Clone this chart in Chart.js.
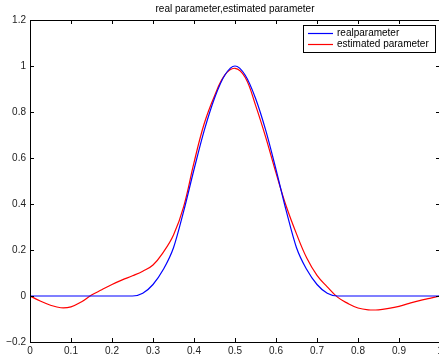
<!DOCTYPE html>
<html>
<head>
<meta charset="utf-8">
<script src="https://cdn.jsdelivr.net/npm/chart.js@4/dist/chart.umd.min.js"></script>
<style>
  html, body { margin: 0; padding: 0; overflow: hidden; background: #fff; }
  #wrap { width: 446px; height: 356px; }
</style>
</head>
<body>
<div id="wrap"><canvas id="plot" width="446" height="356"></canvas></div>
<script>
const xs = [0, 0.025, 0.05, 0.075, 0.1, 0.125, 0.15, 0.175, 0.2, 0.225,
            0.25, 0.275, 0.3, 0.325, 0.35, 0.375, 0.4, 0.425, 0.45, 0.475,
            0.5, 0.525, 0.55, 0.575, 0.6, 0.625, 0.65, 0.675, 0.7, 0.725,
            0.75, 0.775, 0.8, 0.825, 0.85, 0.875, 0.9, 0.925, 0.95, 0.975, 1];
const realParam = [0, 0, 0, 0, 0, 0, 0, 0, 0, 0,
                   0, 0.012, 0.05, 0.115, 0.21, 0.37, 0.55, 0.72, 0.86, 0.96,
                   1.0, 0.96, 0.86, 0.72, 0.55, 0.37, 0.21, 0.115, 0.05, 0.012,
                   0, 0, 0, 0, 0, 0, 0, 0, 0, 0, 0];
const estParam = [0, -0.022, -0.04, -0.051, -0.047, -0.026, 0.004, 0.027, 0.05, 0.07,
                  0.088, 0.108, 0.135, 0.19, 0.265, 0.39, 0.58, 0.75, 0.87, 0.96,
                  0.99, 0.95, 0.83, 0.69, 0.535, 0.39, 0.27, 0.165, 0.09, 0.04,
                  -0.005, -0.032, -0.052, -0.06, -0.06, -0.054, -0.045, -0.032, -0.02, -0.01, 0];
const xTicks = [0, 0.1, 0.2, 0.3, 0.4, 0.5, 0.6, 0.7, 0.8, 0.9, 1];
const xTickLabels = ["0", "0.1", "0.2", "0.3", "0.4", "0.5", "0.6", "0.7", "0.8", "0.9", "1"];
const yTicks = [-0.2, 0, 0.2, 0.4, 0.6, 0.8, 1, 1.2];
const yTickLabels = ["\u22120.2", "0", "0.2", "0.4", "0.6", "0.8", "1", "1.2"];
const seriesNames = ["realparameter", "estimated parameter"];
const seriesColors = ["#0000ff", "#ff0000"];
const titleText = "real parameter,estimated parameter";

const FONT = "'Liberation Sans', Arial, Helvetica, sans-serif";

// MATLAB style box: frame, inward ticks and legend box
const matlabBox = {
    id: "matlabBox",
    afterDraw(chart) {
        const ctx = chart.ctx;
        const { left, right, top, bottom } = chart.chartArea;
        const x = chart.scales.x, y = chart.scales.y;
        ctx.save();
        ctx.strokeStyle = "#000";
        ctx.lineWidth = 1;
        ctx.strokeRect(left + 0.5, top + 0.5, right - left, bottom - top);

        ctx.beginPath();
        xTicks.forEach(v => {
            const px = Math.round(x.getPixelForValue(v)) + 0.5;
            ctx.moveTo(px, bottom); ctx.lineTo(px, bottom - 4);
            ctx.moveTo(px, top); ctx.lineTo(px, top + 4);
        });
        yTicks.forEach(v => {
            const py = Math.round(y.getPixelForValue(v)) + 0.5;
            ctx.moveTo(left, py); ctx.lineTo(left + 4, py);
            ctx.moveTo(right, py); ctx.lineTo(right - 4, py);
        });
        ctx.stroke();

        // legend
        const bx = 303, by = top + 5, bw = 132, bh = 27;
        ctx.fillStyle = "#fff";
        ctx.fillRect(bx, by, bw, bh);
        ctx.strokeRect(bx + 0.5, by + 0.5, bw, bh);
        ctx.font = "10px " + FONT;
        ctx.textBaseline = "middle";
        ctx.textAlign = "left";
        chart.data.datasets.forEach((ds, i) => {
            const ly = by + 8.5 + i * 11;
            ctx.strokeStyle = ds.borderColor;
            ctx.lineWidth = 1.2;
            ctx.beginPath();
            ctx.moveTo(bx + 5, ly); ctx.lineTo(bx + 30, ly);
            ctx.stroke();
            ctx.fillStyle = "#000";
            ctx.fillText(ds.label, bx + 34, ly);
        });
        ctx.restore();
    }
};

new Chart(document.getElementById("plot"), {
    type: "line",
    data: {
        datasets: [realParam, estParam].map((vals, i) => ({
            label: seriesNames[i],
            data: xs.map((xv, j) => ({ x: xv, y: vals[j] })),
            borderColor: seriesColors[i],
            borderWidth: 1.2,
            pointRadius: 0,
            fill: false,
            tension: 0.4,
            cubicInterpolationMode: i === 0 ? "monotone" : "default"
        }))
    },
    options: {
        responsive: false,
        devicePixelRatio: 1,
        animation: false,
        layout: { padding: { left: 0, right: 6, top: 0, bottom: 0 } },
        plugins: {
            legend: { display: false },
            tooltip: { enabled: false },
            title: {
                display: true,
                text: titleText,
                fullSize: false,
                color: "#000",
                font: { family: FONT, size: 10, weight: "normal", lineHeight: 1.2 },
                padding: { top: 3, bottom: 5 }
            }
        },
        scales: {
            x: {
                type: "linear",
                min: 0,
                max: 1,
                grid: { display: false, drawTicks: false },
                border: { display: false },
                afterBuildTicks: s => { s.ticks = xTicks.map(v => ({ value: v })); },
                afterFit: s => { s.height = 14; },
                ticks: {
                    padding: 3,
                    maxRotation: 0,
                    autoSkip: false,
                    color: "#222",
                    font: { family: FONT, size: 10 },
                    callback: (v, i) => xTickLabels[i]
                }
            },
            y: {
                min: -0.2,
                max: 1.2,
                grid: { display: false, drawTicks: false },
                border: { display: false },
                afterBuildTicks: s => { s.ticks = yTicks.map(v => ({ value: v })); },
                afterFit: s => { s.width = 30; },
                ticks: {
                    padding: 4,
                    autoSkip: false,
                    color: "#222",
                    font: { family: FONT, size: 10 },
                    callback: (v, i) => yTickLabels[i]
                }
            }
        }
    },
    plugins: [matlabBox]
});
</script>
</body>
</html>
